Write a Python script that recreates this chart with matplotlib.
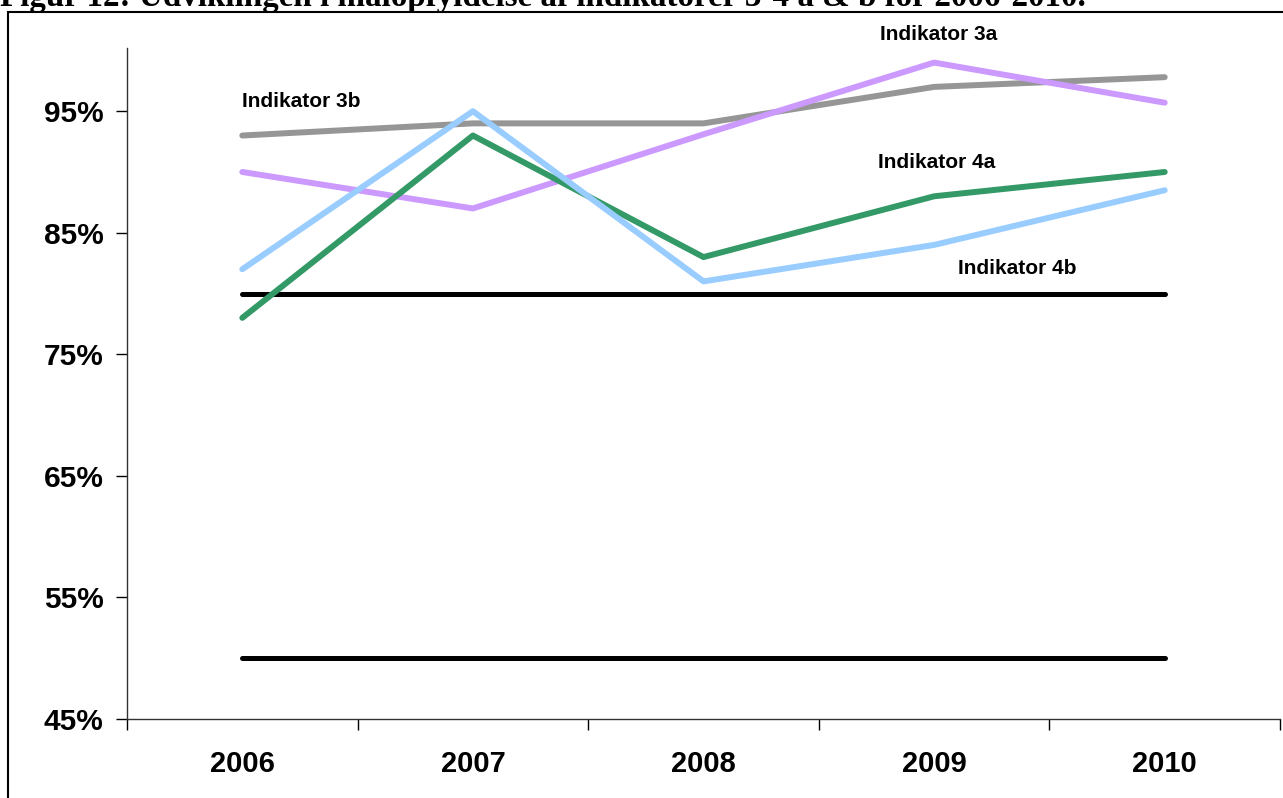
import matplotlib
matplotlib.use('Agg')
import matplotlib.pyplot as plt
from matplotlib.patches import Rectangle
from matplotlib.ticker import FixedLocator

years = ['2006', '2007', '2008', '2009', '2010']
ind_3a = [90, 87, 93.1, 99, 95.7]
ind_3b = [93, 94, 94, 97, 97.8]
ind_4a = [78, 93, 83, 88, 90]
ind_4b = [82, 95, 81, 84, 88.5]
target_upper = [80, 80, 80, 80, 80]
target_lower = [50, 50, 50, 50, 50]
y_ticks = [45, 55, 65, 75, 85, 95]

plt.rcParams['font.family'] = ['Liberation Sans', 'DejaVu Sans']

fig = plt.figure(figsize=(12.83, 7.98), dpi=100)
ax = fig.add_axes([127 / 1283, 1 - 719 / 798, (1280 - 127) / 1283, (719 - 48) / 798])

x = list(range(len(years)))
# target lines first, indicators on top
ax.plot(x, target_lower, color='black', lw=3.6, solid_capstyle='round')
ax.plot(x, target_upper, color='black', lw=3.6, solid_capstyle='round')
ax.plot(x, ind_3b, color='#969696', lw=4.3, solid_capstyle='round')
ax.plot(x, ind_3a, color='#CC99FF', lw=4.3, solid_capstyle='round')
ax.plot(x, ind_4a, color='#339966', lw=4.3, solid_capstyle='round')
ax.plot(x, ind_4b, color='#99CCFF', lw=4.3, solid_capstyle='round')

lab = dict(fontsize=15, fontweight='bold', color='black')
ax.text(3.02, 101.3, 'Indikator 3a', ha='center', va='center', **lab)
ax.text(0.0, 95.8, 'Indikator 3b', ha='left', va='center', **lab)
ax.text(3.01, 90.8, 'Indikator 4a', ha='center', va='center', **lab)
ax.text(3.36, 82.1, 'Indikator 4b', ha='center', va='center', **lab)

ax.set_xlim(-0.5, 4.5)
ax.set_ylim(45, 100.2)
ax.set_yticks(y_ticks)
ax.set_yticklabels([f'{t}%' for t in y_ticks], fontsize=21.5, fontweight='bold')
ax.set_xticks(x)
ax.set_xticklabels(years, fontsize=21, fontweight='bold')
ax.xaxis.set_minor_locator(FixedLocator([-0.5, 0.5, 1.5, 2.5, 3.5, 4.5]))
ax.tick_params(axis='x', which='major', length=0, pad=22)
ax.tick_params(axis='x', which='minor', length=8, width=1, direction='out')
ax.tick_params(axis='y', length=8, width=1, pad=9)

for s in ['top', 'right']:
    ax.spines[s].set_visible(False)
for s in ['left', 'bottom']:
    ax.spines[s].set_linewidth(1)
    ax.spines[s].set_color('#333333')

# outer frame around the figure area
fig.patches.append(Rectangle((8 / 1283, -0.1), 1.2, 1 - 12 / 798 + 0.1,
                             transform=fig.transFigure, fill=False,
                             edgecolor='black', lw=1.5))

# caption sits partly above the top edge, as in the source
fig.text(0.0, 1 - 6 / 798,
         'Figur 12: Udviklingen i målopfyldelse af indikatorer 3-4 a & b for 2006-2010.',
         ha='left', va='baseline', fontsize=23.8, fontweight='bold',
         family=['Liberation Serif', 'DejaVu Serif'])

fig.savefig('out.png', dpi=100)
